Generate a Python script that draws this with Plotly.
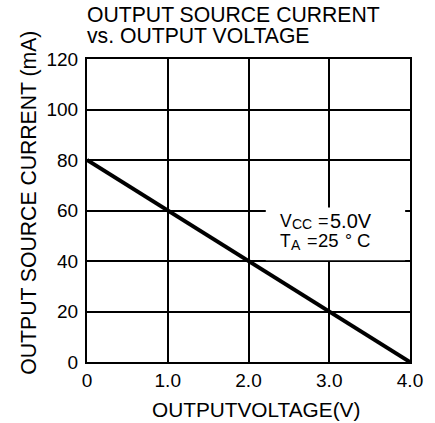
import plotly.graph_objects as go

voltage = [0.0, 4.0]
current = [80, 0]
x_ticks = [0, 1, 2, 3, 4]
x_tick_labels = ["0", "1.0", "2.0", "3.0", "4.0"]
y_ticks = [0, 20, 40, 60, 80, 100, 120]
y_tick_labels = ["0", "20", "40", "60", "80", "100", "120"]

FONT = "Liberation Sans, Arial, sans-serif"
L, R, T, B = 87, 21, 59, 61
W, H = 435, 423
PW, PH = W - L - R, H - T - B


def px(x):
    return (x - L) / PW


def py(y):
    return (H - B - y) / PH


fig = go.Figure()
fig.add_trace(go.Scatter(x=voltage, y=current, mode="lines",
                         line=dict(color="black", width=4), showlegend=False))

fig.add_shape(type="rect", xref="x", yref="y", x0=2.214, x1=3.94, y0=40.3, y1=61.2,
              fillcolor="white", line=dict(width=0), layer="above")


def a(text, x, y, size, xanchor="left", **kw):
    return dict(text=text, xref="paper", yref="paper", x=px(x), y=py(y),
                xanchor=xanchor, yanchor="middle", showarrow=False,
                font=dict(size=size), borderpad=0, **kw)


ann = [
    a("OUTPUT SOURCE CURRENT", 86, 14, 21.2),
    a("vs. OUTPUT VOLTAGE", 86, 35.5, 21.2),
    a("OUTPUTVOLTAGE(V)", 258, 409, 20.8, xanchor="center"),
    a("OUTPUT SOURCE CURRENT (mA)", 27.5, 202.5, 21.2, xanchor="center", textangle=-90),
    # V_CC = 5.0V
    a("V", 281, 220.5, 17.5),
    a("CC", 294, 223.5, 14),
    a("=", 320, 220.5, 18),
    a("5.0V", 332, 220.5, 20),
    # T_A = 25 °C
    a("T", 281, 241, 17.5),
    a("A", 293, 244.5, 14),
    a("=", 309, 241, 18),
    a("25", 320, 241, 18.5),
    a("°", 347, 241, 17.5),
    a("C", 359, 241, 18.5),
]

fig.update_layout(
    width=W, height=H,
    margin=dict(l=L, r=R, t=T, b=B),
    paper_bgcolor="white", plot_bgcolor="white",
    font=dict(family=FONT, color="black"),
    annotations=ann,
    xaxis=dict(range=[0, 4], tickvals=x_ticks, ticktext=x_tick_labels,
               showgrid=True, gridcolor="black", gridwidth=2,
               showline=True, linecolor="black", linewidth=2, mirror=True,
               zeroline=False, ticks="", tickfont=dict(size=19), fixedrange=True),
    yaxis=dict(range=[0, 120], tickvals=y_ticks, ticktext=y_tick_labels,
               showgrid=True, gridcolor="black", gridwidth=2,
               showline=True, linecolor="black", linewidth=2, mirror=True,
               zeroline=False, ticks="", tickfont=dict(size=19), fixedrange=True,
               ticklabelstandoff=3),
)

fig.write_html("out.html", config={"displayModeBar": False},
               post_script="document.body.style.margin='0';")
